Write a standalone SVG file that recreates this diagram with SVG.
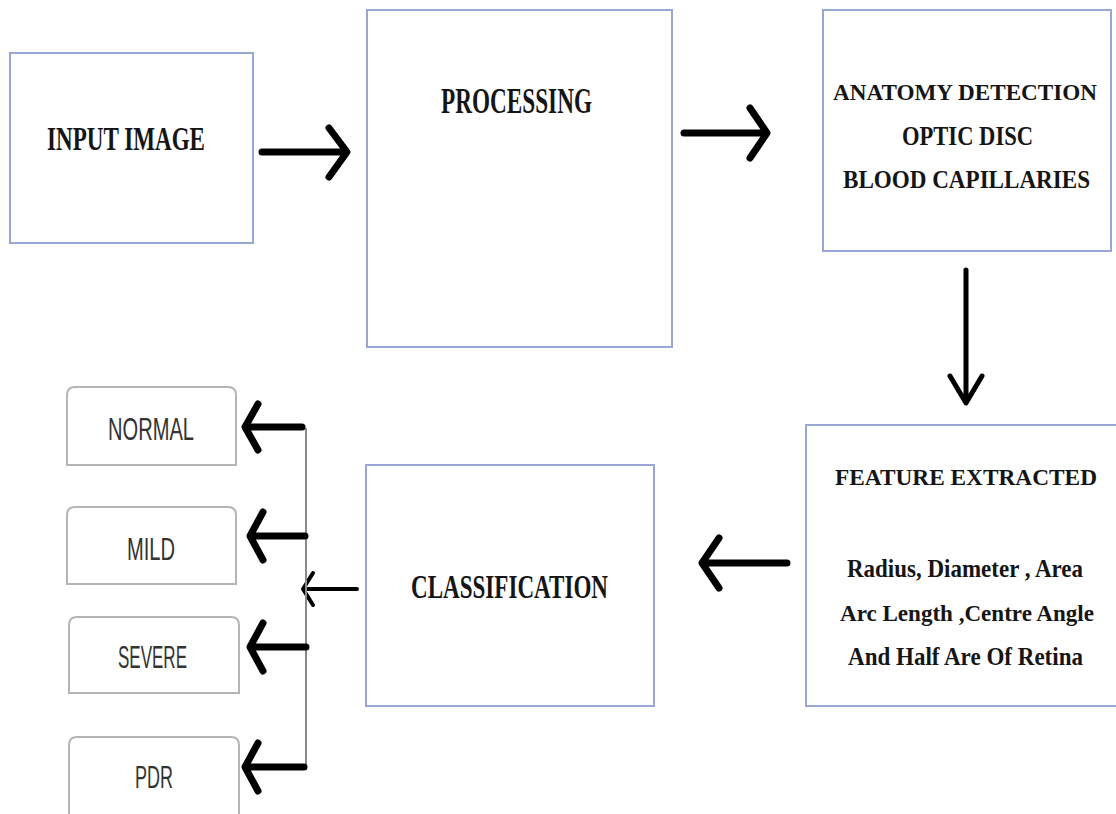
<svg xmlns="http://www.w3.org/2000/svg" width="1116" height="814" viewBox="0 0 1116 814">
<style>
.box{fill:#fff;stroke:#9aa6d6;stroke-width:2}
.opt{fill:#fff;stroke:#b5b5b5;stroke-width:2}
.t{font-family:"Liberation Serif","Times New Roman",serif;font-weight:bold;fill:#151515}
.s{font-family:"Liberation Sans",Arial,sans-serif;fill:#333;font-size:32px}
.a{fill:none;stroke:#000;stroke-linecap:round;stroke-linejoin:round}
</style>
<rect width="1116" height="814" fill="#fff"/>
<g id="input-image">
<rect class="box" x="10" y="53" width="243" height="190"/>
<text class="t" x="47" y="150" font-size="34" textLength="158" lengthAdjust="spacingAndGlyphs">INPUT IMAGE</text>
</g>
<g id="processing">
<rect class="box" x="367" y="10" width="305" height="337"/>
<text class="t" x="441" y="113" font-size="35" textLength="151" lengthAdjust="spacingAndGlyphs">PROCESSING</text>
</g>
<g id="anatomy-detection">
<rect class="box" x="823" y="10" width="288" height="241"/>
<text class="t" x="833" y="100" font-size="24" textLength="264" lengthAdjust="spacingAndGlyphs">ANATOMY DETECTION</text>
<text class="t" x="902" y="145" font-size="28" textLength="131" lengthAdjust="spacingAndGlyphs">OPTIC DISC</text>
<text class="t" x="843" y="188" font-size="25" textLength="247" lengthAdjust="spacingAndGlyphs">BLOOD CAPILLARIES</text>
</g>
<g id="feature-extracted">
<rect class="box" x="806" y="425" width="320" height="281"/>
<text class="t" x="835" y="485" font-size="24" textLength="262" lengthAdjust="spacingAndGlyphs">FEATURE EXTRACTED</text>
<text class="t" x="847" y="577" font-size="25" textLength="236" lengthAdjust="spacingAndGlyphs">Radius, Diameter , Area</text>
<text class="t" x="840" y="621" font-size="24" textLength="254" lengthAdjust="spacingAndGlyphs">Arc Length ,Centre Angle</text>
<text class="t" x="848" y="665" font-size="25" textLength="235" lengthAdjust="spacingAndGlyphs">And Half Are Of Retina</text>
</g>
<g id="classification">
<rect class="box" x="366" y="465" width="288" height="241"/>
<text class="t" x="411" y="598" font-size="33" textLength="197" lengthAdjust="spacingAndGlyphs">CLASSIFICATION</text>
</g>
<g id="normal">
<path class="opt" d="M67,465 V395 Q67,387 75,387 H228 Q236,387 236,395 V465 Z"/>
<text class="s" x="108" y="440" textLength="86" lengthAdjust="spacingAndGlyphs">NORMAL</text>
</g>
<g id="mild">
<path class="opt" d="M67,584 V515 Q67,507 75,507 H228 Q236,507 236,515 V584 Z"/>
<text class="s" x="127" y="560" textLength="48" lengthAdjust="spacingAndGlyphs">MILD</text>
</g>
<g id="severe">
<path class="opt" d="M69,693 V625 Q69,617 77,617 H231 Q239,617 239,625 V693 Z"/>
<text class="s" x="118" y="668" textLength="69" lengthAdjust="spacingAndGlyphs">SEVERE</text>
</g>
<g id="pdr">
<path class="opt" d="M69,816 V745 Q69,737 77,737 H231 Q239,737 239,745 V816"/>
<text class="s" x="135" y="788" textLength="38" lengthAdjust="spacingAndGlyphs">PDR</text>
</g>
<g id="connectors">
<path class="a" stroke-width="7" d="M262,152 H346 M329,128 L347,152 L329,177"/>
<path class="a" stroke-width="7" d="M684,133 H766 M750,108 L767,133 L750,158"/>
<path class="a" stroke-width="5" d="M966,270 V402 M950,376 L966,403 L982,376"/>
<path class="a" stroke-width="7" d="M787,563 H703 M719,538 L702,563 L719,588"/>
<path class="a" stroke-width="4" d="M357,589 H304 M313,573 L303,589 L313,605"/>
<path fill="none" stroke="#8a8a8a" stroke-width="2" d="M306,428 V767"/>
<path class="a" stroke-width="7" d="M302,427 H247 M258,404 L245,427 L258,450"/>
<path class="a" stroke-width="7" d="M305,536 H252 M263,512 L250,536 L263,560"/>
<path class="a" stroke-width="7" d="M306,647 H252 M263,623 L250,647 L263,671"/>
<path class="a" stroke-width="7" d="M304,767 H247 M258,743 L245,767 L258,791"/>
</g>
</svg>
